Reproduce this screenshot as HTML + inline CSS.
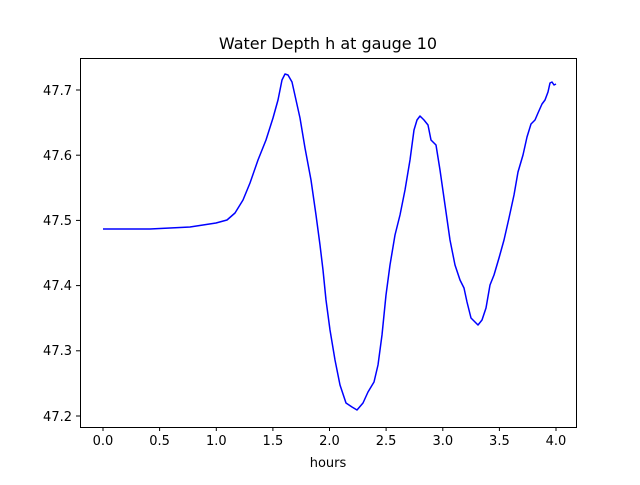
<!DOCTYPE html>
<html><head><meta charset="utf-8"><style>
body{margin:0;background:#fff}
svg text{font-family:"DejaVu Sans","Liberation Sans",sans-serif;font-size:13px;fill:#000}
</style></head><body>
<svg width="640" height="480" viewBox="0 0 640 480">
<rect width="640" height="480" fill="#fff"/>
<text x="328" y="49" text-anchor="middle" style="font-size:16px">Water Depth h at gauge 10</text>
<polyline fill="none" stroke="#0000ff" stroke-width="1.5" stroke-linejoin="round" points="103,229 150,229 190,227 216,223 227,220 235,213 243,200 250,183 258,160 266,140 273,118 278,100 282,80 285,74 288,75 292,82 296,100 300,118 305,148 311,180 316,215 320,245 323,270 326,300 330,330 335,360 340,385 346,403 352,407 357,410 363,403 368,392 374,382 378,365 382,335 386,295 390,265 395,235 400,215 405,190 410,160 414,130 417,120 420,116 424,120 428,125 431,140 436,145 440,170 445,205 450,240 455,265 460,280 464,288 467,302 471,318 475,322 478,325 482,320 486,308 490,285 494,275 499,258 504,240 509,218 514,195 518,172 523,155 527,137 531,124 535,120 538,113 542,104 545,100 548,92 550,83 552,82 554,85 556,84"/>
<rect x="80.5" y="58.5" width="496" height="369" fill="none" stroke="#000" stroke-width="1"/>
<g stroke="#000">
<line x1="103" y1="427" x2="103" y2="431"/><line x1="159.6" y1="427" x2="159.6" y2="431"/><line x1="216.3" y1="427" x2="216.3" y2="431"/><line x1="272.9" y1="427" x2="272.9" y2="431"/><line x1="329.5" y1="427" x2="329.5" y2="431"/><line x1="386.1" y1="427" x2="386.1" y2="431"/><line x1="442.8" y1="427" x2="442.8" y2="431"/><line x1="499.4" y1="427" x2="499.4" y2="431"/><line x1="556" y1="427" x2="556" y2="431"/>
<line x1="76" y1="90" x2="80" y2="90"/><line x1="76" y1="155.2" x2="80" y2="155.2"/><line x1="76" y1="220.4" x2="80" y2="220.4"/><line x1="76" y1="285.6" x2="80" y2="285.6"/><line x1="76" y1="350.8" x2="80" y2="350.8"/><line x1="76" y1="416" x2="80" y2="416"/>
</g>
<g text-anchor="middle">
<text x="103" y="445">0.0</text><text x="159.6" y="445">0.5</text><text x="216.3" y="445">1.0</text><text x="272.9" y="445">1.5</text><text x="329.5" y="445">2.0</text><text x="386.1" y="445">2.5</text><text x="442.8" y="445">3.0</text><text x="499.4" y="445">3.5</text><text x="556" y="445">4.0</text>
<text x="328" y="467">hours</text>
</g>
<g text-anchor="end">
<text x="72" y="95">47.7</text><text x="72" y="160">47.6</text><text x="72" y="225">47.5</text><text x="72" y="290">47.4</text><text x="72" y="355">47.3</text><text x="72" y="421">47.2</text>
</g>
</svg>
</body></html>
